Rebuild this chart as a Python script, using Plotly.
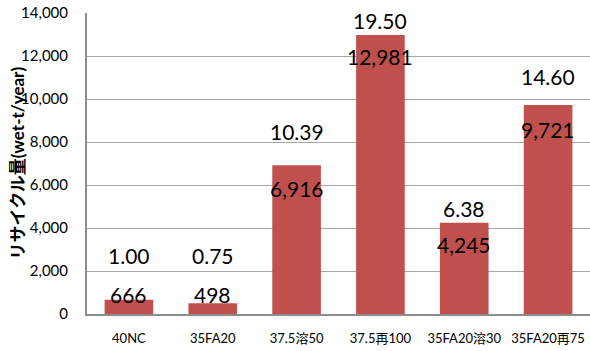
import plotly.graph_objects as go

# Recycled volume per mix design
categories = ["40NC", "35FA20", "37.5溶50", "37.5再100", "35FA20溶30", "35FA20再75"]
volumes = [666, 498, 6916, 12981, 4245, 9721]
ratios = ["1.00", "0.75", "10.39", "19.50", "6.38", "14.60"]
y_ticks = [0, 2000, 4000, 6000, 8000, 10000, 12000, 14000]
y_title = "リサイクル量(wet-t/year)"

# label placement (pixel offsets from bar top)
value_shift = [-22, -22, -23, -22, -22, -24]
ratio_shift = [44, 48, 34, 14, 14, 29]

FONT = "Lato, 'Noto Sans CJK JP', sans-serif"
BAR_COLOR = "#C0504D"

fig = go.Figure()
fig.add_trace(go.Bar(
    x=categories, y=volumes,
    marker=dict(color=BAR_COLOR, line=dict(width=0)),
    hoverinfo="skip",
))

for i, (cat, v, r) in enumerate(zip(categories, volumes, ratios)):
    # value label: inside the bar top, or resting above the axis for short bars
    if v > 2000:
        fig.add_annotation(x=cat, y=v, yshift=value_shift[i], text=f"{v:,}",
                           showarrow=False, font=dict(family=FONT, size=21, color="#000000"))
    else:
        fig.add_annotation(x=cat, y=0, yshift=20, text=f"{v:,}",
                           showarrow=False, font=dict(family=FONT, size=21, color="#000000"))
    fig.add_annotation(x=cat, y=v, yshift=ratio_shift[i], text=r,
                       showarrow=False, font=dict(family=FONT, size=21, color="#000000"))

# vertical axis title
fig.add_annotation(xref="paper", yref="paper", x=0, y=0.5, xshift=-70,
                   xanchor="center", yanchor="middle",
                   text=f"<b>{y_title}</b>", textangle=-90, showarrow=False,
                   font=dict(family=FONT, size=17, color="#000000"))

fig.update_layout(
    width=590, height=351,
    margin=dict(l=87, r=0, t=13, b=37),
    paper_bgcolor="white", plot_bgcolor="white",
    bargap=0.42,
    showlegend=False,
    font=dict(family=FONT, color="#000000"),
)
fig.update_xaxes(
    showline=True, linecolor="#8C8C8C", linewidth=2,
    showgrid=False, ticks="",
    tickfont=dict(family=FONT, size=13, color="#000000"),
    ticklabelstandoff=11,
)
fig.update_yaxes(
    range=[0, 14000], tickvals=y_ticks,
    tickformat=",d",
    showline=True, linecolor="#8C8C8C", linewidth=2,
    showgrid=True, gridcolor="#A6A6A6", gridwidth=1.3,
    zeroline=False, ticks="",
    tickfont=dict(family=FONT, size=15, color="#000000"),
    ticklabelstandoff=14,
)

fig.write_html("out.html")
